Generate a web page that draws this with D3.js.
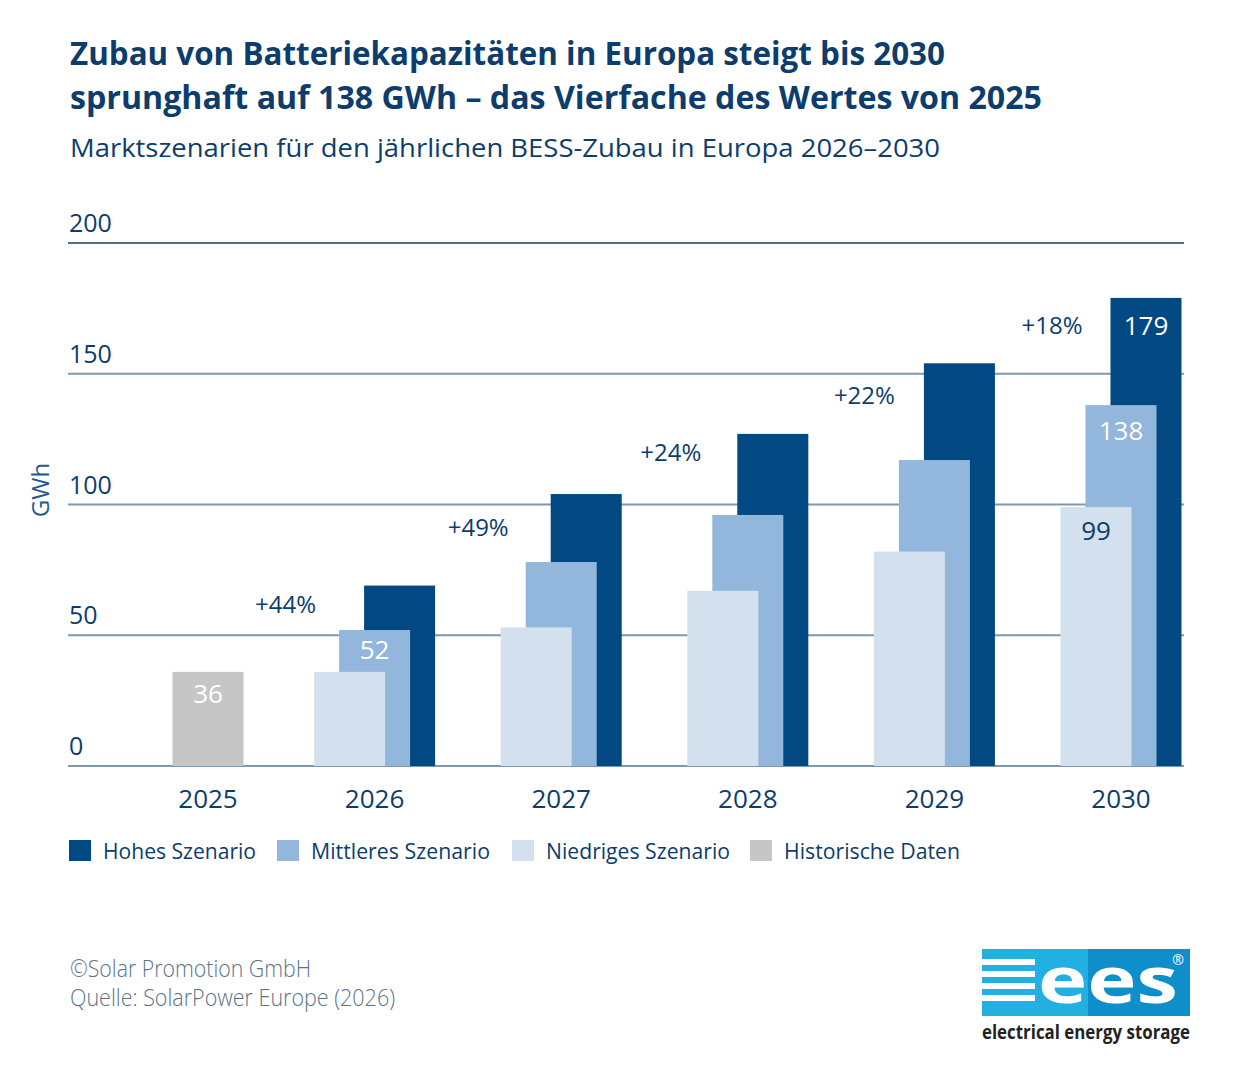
<!DOCTYPE html>
<html>
<head>
<meta charset="utf-8">
<script src="https://cdn.jsdelivr.net/npm/d3@7"></script>
<style>
  body { margin: 0; background: #fff; }
  text { font-family: "Open Sans", sans-serif; }
</style>
</head>
<body>
<div id="chart"></div>
<script>
// data
const years = ["2025", "2026", "2027", "2028", "2029", "2030"];
const scenYears = ["2026", "2027", "2028", "2029", "2030"];
const highVals = [69, 104, 127, 154, 179];
const midVals = [52, 78, 96, 117, 138];
const lowVals = [36, 53, 67, 82, 99];
const histYear = "2025";
const histVal = 36;
const growthLabels = ["+44%", "+49%", "+24%", "+22%", "+18%"];
const yTicks = [0, 50, 100, 150, 200];
const legendItems = ["Hohes Szenario", "Mittleres Szenario", "Niedriges Szenario", "Historische Daten"];

const colors = { high: "#024882", mid: "#93b7dc", low: "#d3e0ed", hist: "#c6c6c6" };
const navy = "#0c3d6c";

const W = 1241, H = 1092;
const svg = d3.select("#chart").append("svg")
  .attr("width", W).attr("height", H);

// title
svg.append("text").attr("x", 70).attr("y", 65)
  .attr("font-size", 33).attr("font-weight", 700).attr("fill", navy)
  .attr("textLength", 875).attr("lengthAdjust", "spacingAndGlyphs")
  .text("Zubau von Batteriekapazitäten in Europa steigt bis 2030");
svg.append("text").attr("x", 70).attr("y", 109)
  .attr("font-size", 33).attr("font-weight", 700).attr("fill", navy)
  .attr("textLength", 972).attr("lengthAdjust", "spacingAndGlyphs")
  .text("sprunghaft auf 138 GWh – das Vierfache des Wertes von 2025");
svg.append("text").attr("x", 70).attr("y", 157)
  .attr("font-size", 26).attr("fill", navy)
  .attr("textLength", 870).attr("lengthAdjust", "spacingAndGlyphs")
  .text("Marktszenarien für den jährlichen BESS-Zubau in Europa 2026–2030");

// scales
const x = d3.scalePoint().domain(years).range([188, 1121]);
const xs = d3.scalePoint().domain(["low", "mid", "high"]).range([-25, 25]);
const barW = 71;
const y = d3.scaleLinear().domain([0, 200]).range([766, 243]);

// gridlines
const grid = svg.append("g");
grid.selectAll("line").data(yTicks).enter().append("line")
  .attr("x1", 68).attr("x2", 1184)
  .attr("y1", d => y(d)).attr("y2", d => y(d))
  .attr("stroke", d => d === 200 ? "#1d3d5c" : "#7f98ae")
  .attr("stroke-width", d => d === 200 ? 1.5 : 2);
grid.selectAll("text").data(yTicks).enter().append("text")
  .attr("x", 69).attr("y", d => y(d) - 11)
  .attr("font-size", 25).attr("fill", navy)
  .text(d => d);

svg.append("text")
  .attr("transform", "translate(49,490) rotate(-90)")
  .attr("text-anchor", "middle").attr("font-size", 24).attr("fill", "#1d5a92")
  .text("GWh");

// bars: high at the back, low in front
const barData = [];
scenYears.forEach((yr, i) => {
  barData.push({ year: yr, s: "high", v: highVals[i] });
  barData.push({ year: yr, s: "mid", v: midVals[i] });
  barData.push({ year: yr, s: "low", v: lowVals[i] });
});

svg.append("g").selectAll("rect").data(barData).enter().append("rect")
  .attr("x", d => x(d.year) + xs(d.s) - barW / 2)
  .attr("y", d => y(d.v))
  .attr("width", barW)
  .attr("height", d => y(0) - y(d.v))
  .attr("fill", d => colors[d.s]);

// historical bar (centred on 2025 label)
const histX = x(histYear) + 20;
svg.append("rect")
  .attr("x", histX - barW / 2).attr("y", y(histVal))
  .attr("width", barW).attr("height", y(0) - y(histVal))
  .attr("fill", colors.hist);
svg.append("text").attr("x", histX).attr("y", y(histVal) + 31)
  .attr("text-anchor", "middle").attr("font-size", 26).attr("fill", "#fff")
  .text(histVal);

// value labels
const valLabels = [
  { year: "2026", s: "mid", v: midVals[0], fill: "#fff", dy: 29 },
  { year: "2030", s: "low", v: lowVals[4], fill: navy, dy: 33 },
  { year: "2030", s: "mid", v: midVals[4], fill: "#fff", dy: 35 },
  { year: "2030", s: "high", v: highVals[4], fill: "#fff", dy: 37 },
];
svg.append("g").selectAll("text").data(valLabels).enter().append("text")
  .attr("x", d => x(d.year) + xs(d.s))
  .attr("y", d => y(d.v) + d.dy)
  .attr("text-anchor", "middle").attr("font-size", 26).attr("fill", d => d.fill)
  .text(d => d.v);

// growth labels
const growthDy = [27, 42, 27, 41, 36];
const growthDx = [-89, -83, -77, -70, -69];
svg.append("g").selectAll("text").data(scenYears).enter().append("text")
  .attr("x", (d, i) => x(d) + growthDx[i])
  .attr("y", (d, i) => y(highVals[i]) + growthDy[i])
  .attr("text-anchor", "middle").attr("font-size", 24).attr("fill", navy)
  .text((d, i) => growthLabels[i]);

// x labels
svg.append("g").selectAll("text").data(years).enter().append("text")
  .attr("x", d => d === histYear ? histX : x(d))
  .attr("y", 808)
  .attr("text-anchor", "middle").attr("font-size", 26).attr("fill", navy)
  .text(d => d);

// legend
const legendX = [69, 277, 512, 750];
const legendW = [153, 179, 184, 176];
const legendC = [colors.high, colors.mid, colors.low, colors.hist];
const lg = svg.append("g").selectAll("g").data(legendItems).enter().append("g")
  .attr("transform", (d, i) => `translate(${legendX[i]},840)`);
lg.append("rect").attr("width", 22).attr("height", 21).attr("fill", (d, i) => legendC[i]);
lg.append("text").attr("x", 34).attr("y", 19)
  .attr("font-size", 22).attr("fill", navy)
  .attr("textLength", (d, i) => legendW[i]).attr("lengthAdjust", "spacingAndGlyphs")
  .text(d => d);

// footer
svg.append("text").attr("x", 70).attr("y", 977)
  .attr("font-size", 23).attr("font-weight", 300).attr("fill", "#5b7389")
  .attr("textLength", 241).attr("lengthAdjust", "spacingAndGlyphs")
  .text("©Solar Promotion GmbH");
svg.append("text").attr("x", 70).attr("y", 1006)
  .attr("font-size", 23).attr("font-weight", 300).attr("fill", "#5b7389")
  .attr("textLength", 325).attr("lengthAdjust", "spacingAndGlyphs")
  .text("Quelle: SolarPower Europe (2026)");

// logo
const logo = svg.append("g").attr("transform", "translate(982,949)");
logo.append("rect").attr("width", 106).attr("height", 67).attr("fill", "#22afe2");
logo.append("rect").attr("x", 106).attr("width", 102).attr("height", 67).attr("fill", "#0f8fc9");
[10, 22, 34, 46].forEach(sy => {
  logo.append("rect").attr("x", 0).attr("y", sy).attr("width", 53).attr("height", 6).attr("fill", "#fff");
});
logo.append("text").attr("x", 56).attr("y", 54)
  .attr("font-family", "Liberation Sans, Arial, sans-serif").attr("font-weight", 700)
  .attr("font-size", 64).attr("fill", "#fff")
  .attr("textLength", 140).attr("lengthAdjust", "spacingAndGlyphs")
  .text("ees");
logo.append("text").attr("x", 196).attr("y", 16)
  .attr("font-family", "Liberation Sans, Arial, sans-serif")
  .attr("font-size", 14).attr("fill", "#fff").attr("text-anchor", "middle")
  .text("®");
svg.append("text").attr("x", 982).attr("y", 1039)
  .attr("font-size", 19).attr("font-weight", 700).attr("fill", "#222")
  .attr("textLength", 208).attr("lengthAdjust", "spacingAndGlyphs")
  .text("electrical energy storage");
</script>
</body>
</html>
